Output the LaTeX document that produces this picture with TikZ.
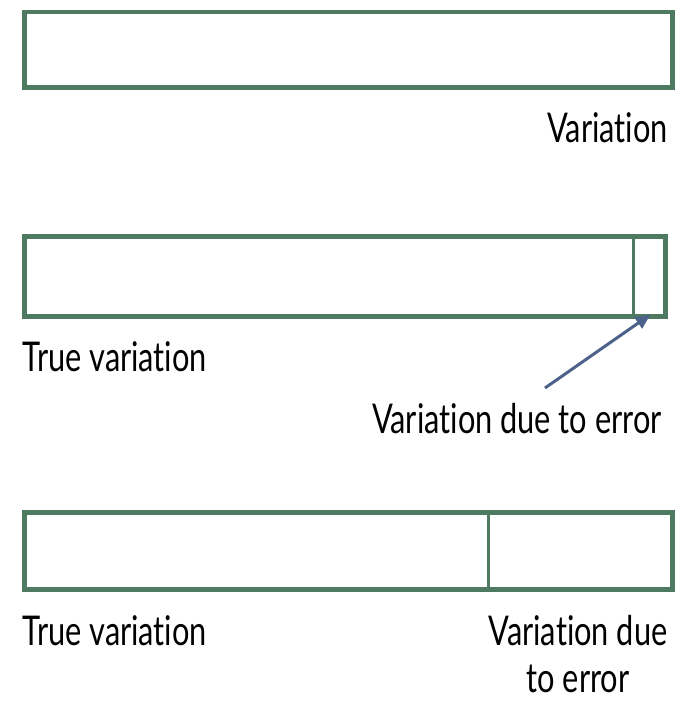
\documentclass[tikz,border=0pt]{standalone}
\usepackage{fontspec}
\setmainfont[FakeStretch=0.75,Ligatures={NoCommon}]{Lato}
\usetikzlibrary{positioning,arrows.meta}

\definecolor{barGreen}{RGB}{78,122,98}
\definecolor{arrowBlue}{RGB}{76,98,138}

\tikzset{
	bar/.style={draw=barGreen, line width=4.5pt, inner sep=0pt, anchor=north west},
	divider/.style={draw=barGreen, line width=3pt},
	lbl/.style={font=\fontsize{41}{53}\selectfont, inner sep=0pt, text=black},
	pointer/.style={draw=arrowBlue, line width=3pt, -{Triangle[length=15pt,width=13pt]}}
}

\begin{document}
\begin{tikzpicture}[x=1pt,y=-1pt]
		\useasboundingbox (0,0) rectangle (683,701);
		
		% all variation
		\node[bar, minimum width=648pt, minimum height=75pt] (total) at (22,10) {};
		\node[lbl, anchor=base east] (totalLbl) at (668,142) {Variation};
		
		% small error share
		\node[bar, minimum width=641pt, minimum height=80pt] (small) at (22,234) {};
		\draw[divider] ([xshift=-34pt]small.north east) -- ([xshift=-34pt]small.south east);
		\coordinate (smallErr) at ([xshift=-17pt,yshift=4pt]small.south east);
		\node[lbl, anchor=base west] (smallTrue) at (22,371) {True variation};
		\node[lbl, anchor=base east] (smallErrLbl) at (662,433) {Variation due to error};
		\coordinate (tail) at (545,388);
		\draw[pointer] (tail) -- (smallErr);
		
		% large error share
		\node[bar, minimum width=648pt, minimum height=77pt] (large) at (22,510) {};
		\draw[divider] ([xshift=-186pt]large.north east) -- ([xshift=-186pt]large.south east);
		\node[lbl, anchor=base west] (largeTrue) at (22,645) {True variation};
		\node[lbl, anchor=base] (largeErrA) at (578,645) {Variation due};
		\node[lbl, anchor=base] (largeErrB) at (578,692) {to error};
\end{tikzpicture}
\end{document}
